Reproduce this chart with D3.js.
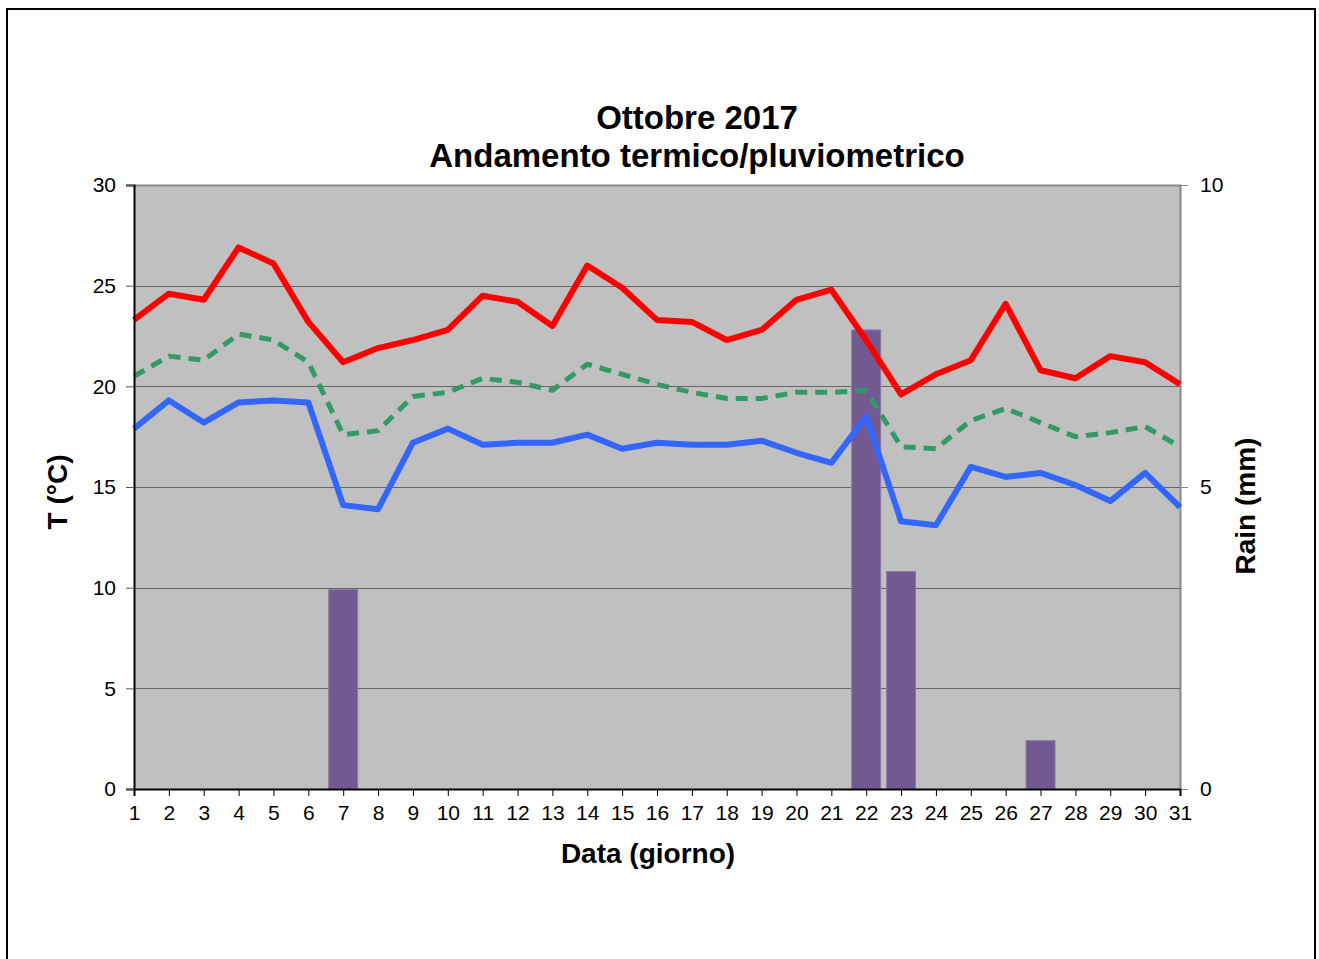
<!DOCTYPE html>
<html>
<head>
<meta charset="utf-8">
<script src="https://cdn.jsdelivr.net/npm/d3@7"></script>
<style>
  body { margin:0; background:#fff; }
  svg { display:block; font-family:"Liberation Sans", Arial, sans-serif; }
</style>
</head>
<body>
<svg id="chart" width="1319" height="959"></svg>
<script>
// days of October 2017
var days = d3.range(1, 32);
// max temperature (°C)
var tmax = [23.3,24.6,24.3,26.9,26.1,23.2,21.2,21.9,22.3,22.8,24.5,24.2,23.0,26.0,24.9,23.3,
            23.2,22.3,22.8,24.3,24.8,22.3,19.6,20.6,21.3,24.1,20.8,20.4,21.5,21.2,20.1];
// mean temperature (°C)
var tmean = [20.5,21.5,21.3,22.6,22.3,21.2,17.6,17.8,19.5,19.7,20.4,20.2,19.8,21.1,20.6,20.1,
             19.7,19.4,19.4,19.7,19.7,19.8,17.0,16.9,18.3,18.9,18.2,17.5,17.7,18.0,17.0];
// min temperature (°C)
var tmin = [17.9,19.3,18.2,19.2,19.3,19.2,14.1,13.9,17.2,17.9,17.1,17.2,17.2,17.6,16.9,17.2,
            17.1,17.1,17.3,16.7,16.2,18.5,13.3,13.1,16.0,15.5,15.7,15.1,14.3,15.7,14.0];
// rain (mm), only rainy days
var rainDays = [7, 22, 23, 27];
var rainMm = [3.3, 7.6, 3.6, 0.8];
var tTicks = [0,5,10,15,20,25,30];
var rTicks = [0,5,10];

var svg = d3.select("#chart");
var pLeft = 134, pRight = 1180, pTop = 185, pBottom = 789;

// outer frame
svg.append("rect").attr("x",7).attr("y",9).attr("width",1308).attr("height",970)
   .attr("fill","none").attr("stroke","#000").attr("stroke-width",2);

var x = d3.scaleLinear().domain([1,31]).range([pLeft,pRight]);
var yT = d3.scaleLinear().domain([0,30]).range([pBottom,pTop]);
var yR = d3.scaleLinear().domain([0,10]).range([pBottom,pTop]);

// plot background
svg.append("rect").attr("x",pLeft).attr("y",pTop).attr("width",pRight-pLeft).attr("height",pBottom-pTop)
   .attr("fill","#c0c0c0");

// gridlines
svg.append("g").selectAll("line").data(tTicks.slice(1,-1)).enter().append("line")
   .attr("x1",pLeft).attr("x2",pRight)
   .attr("y1",function(d){return Math.round(yT(d))+0.5;})
   .attr("y2",function(d){return Math.round(yT(d))+0.5;})
   .attr("stroke","#666").attr("stroke-width",1.2);

// top and right border
svg.append("path").attr("d","M"+pLeft+","+(pTop+0.5)+"H"+(pRight+0.5)+"V"+pBottom)
   .attr("fill","none").attr("stroke","#888").attr("stroke-width",2);

// rain bars
var bw = (x(2)-x(1))*0.83;
svg.append("g").selectAll("rect").data(rainDays).enter().append("rect")
   .attr("x",function(d){return x(d)-bw/2;})
   .attr("y",function(d,i){return yR(rainMm[i]);})
   .attr("width",bw)
   .attr("height",function(d,i){return pBottom-yR(rainMm[i]);})
   .attr("fill","#725990").attr("stroke","#8c7aa6").attr("stroke-width",1);

// temperature lines
var line = d3.line().x(function(d,i){return x(days[i]);}).y(function(d){return yT(d);});
svg.append("path").datum(tmean).attr("d",line).attr("fill","none")
   .attr("stroke","#339966").attr("stroke-width",5).attr("stroke-dasharray","12,8")
   .attr("stroke-linejoin","round");
svg.append("path").datum(tmin).attr("d",line).attr("fill","none")
   .attr("stroke","#3366ff").attr("stroke-width",6).attr("stroke-linejoin","round");
svg.append("path").datum(tmax).attr("d",line).attr("fill","none")
   .attr("stroke","#ff0000").attr("stroke-width",6).attr("stroke-linejoin","round");

// left axis
var gl = svg.append("g").attr("transform","translate("+pLeft+",0)")
   .call(d3.axisLeft(yT).tickValues(tTicks).tickSize(8).tickPadding(10));
gl.select(".domain").attr("stroke","#000").attr("stroke-width",2);
gl.selectAll(".tick line").attr("stroke","#555");
gl.selectAll("text").attr("font-size",21).attr("fill","#000").attr("font-family","Liberation Sans, Arial");

// right axis
var gr = svg.append("g").attr("transform","translate("+pRight+",0)")
   .call(d3.axisRight(yR).tickValues(rTicks).tickSize(8).tickPadding(12));
gr.select(".domain").remove();
gr.selectAll(".tick line").attr("stroke","#888");
gr.selectAll("text").attr("font-size",21).attr("fill","#000").attr("font-family","Liberation Sans, Arial");

// bottom axis
var gb = svg.append("g").attr("transform","translate(0,"+pBottom+")")
   .call(d3.axisBottom(x).tickValues(days).tickFormat(d3.format("d")).tickSize(7).tickPadding(9));
gb.select(".domain").attr("stroke","#000").attr("stroke-width",2);
gb.selectAll(".tick line").attr("stroke","#000");
gb.selectAll("text").attr("font-size",21).attr("fill","#000").attr("font-family","Liberation Sans, Arial");

// titles
var title = svg.append("text").attr("text-anchor","middle").attr("font-weight","bold")
   .attr("font-size",33).attr("fill","#000");
title.append("tspan").attr("x",697).attr("y",129).text("Ottobre 2017");
title.append("tspan").attr("x",697).attr("y",167).text("Andamento termico/pluviometrico");

svg.append("text").attr("x",648).attr("y",863).attr("text-anchor","middle")
   .attr("font-weight","bold").attr("font-size",28).text("Data (giorno)");
svg.append("text").attr("transform","translate(67,492) rotate(-90)").attr("text-anchor","middle")
   .attr("font-weight","bold").attr("font-size",28).text("T (°C)");
svg.append("text").attr("transform","translate(1255,506) rotate(-90)").attr("text-anchor","middle")
   .attr("font-weight","bold").attr("font-size",28).text("Rain (mm)");
</script>
</body>
</html>
